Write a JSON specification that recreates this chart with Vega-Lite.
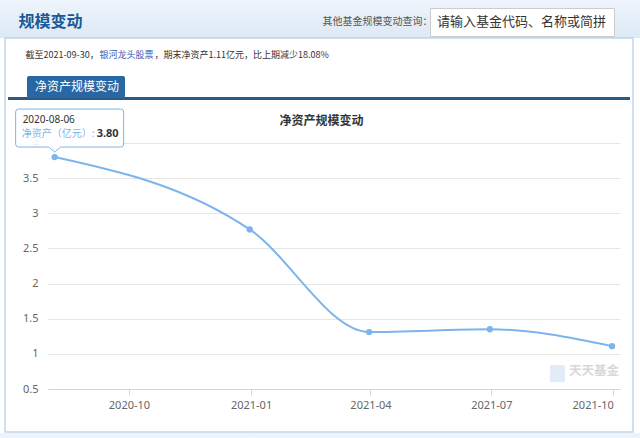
{
  "$schema": "https://vega.github.io/schema/vega-lite/v6.json",
  "width": 572,
  "height": 246,
  "autosize": {"type": "none"},
  "padding": {"left": 48, "top": 143, "right": 20, "bottom": 49},
  "background": "#ffffff",
  "config": {"font": "Noto Sans CJK SC", "view": {"stroke": null}},
  "data": {"values": [
    {"date": "2020-08-06", "value": 3.80},
    {"date": "2020-12-31", "value": 2.77},
    {"date": "2021-03-31", "value": 1.31},
    {"date": "2021-06-30", "value": 1.35},
    {"date": "2021-09-30", "value": 1.11}
  ]},
  "resolve": {"axis": {"x": "independent", "y": "independent"}, "scale": {"fill": "independent"}, "legend": {"fill": "independent"}},
  "layer": [
    {
      "mark": {"type": "line", "interpolate": "monotone", "strokeWidth": 2},
      "encoding": {
        "x": {"field": "date", "type": "temporal",
          "scale": {"type": "utc", "domain": [{"year": 2020, "month": 8, "date": 1, "utc": true}, {"year": 2021, "month": 10, "date": 6, "utc": true}]},
          "axis": {
            "values": [{"year": 2020, "month": 10, "date": 1, "utc": true}, {"year": 2021, "month": 1, "date": 1, "utc": true}, {"year": 2021, "month": 4, "date": 1, "utc": true}, {"year": 2021, "month": 7, "date": 1, "utc": true}, {"year": 2021, "month": 10, "date": 1, "utc": true}],
            "format": "%Y-%m", "grid": false, "domainColor": "#ccd6eb", "tickColor": "#ccd6eb", "tickSize": 6,
            "labelColor": "#666666", "labelFontSize": 11, "labelFont": "Noto Sans", "labelPadding": 4, "labelFlush": 10,
            "title": "截至2021-09-30，",
            "titleX": -23, "titleY": -335, "titleAlign": "left", "titleAnchor": "start", "titleBaseline": "middle",
            "titleFontSize": 9, "titleFontWeight": "normal", "titleColor": "#333333", "zindex": 2
          }
        },
        "y": {"field": "value", "type": "quantitative", "scale": {"domain": [0.5, 4]},
          "axis": {"values": [0.5, 1, 1.5, 2, 2.5, 3, 3.5, 4], "format": "~g", "domain": false, "ticks": false,
            "gridColor": "#e6e6e6", "gridWidth": 1, "labelColor": "#666666", "labelFontSize": 11, "labelFont": "Noto Sans",
            "labelPadding": 10,
            "title": "银河龙头股票", "titleAngle": 0, "titleX": 51, "titleY": -89, "titleAlign": "left", "titleAnchor": "start",
            "titleBaseline": "middle", "titleFontSize": 9, "titleFontWeight": "normal", "titleColor": "#3a55b0"}
        },
        "color": {"datum": "净资产规模变动", "scale": {"range": ["#7cb5ec"]},
          "legend": {"orient": "none", "legendX": -21, "legendY": -67, "title": null, "fillColor": "#2767a3",
            "padding": 5, "symbolSize": 0.01, "symbolOpacity": 0, "symbolStrokeWidth": 0, "labelColor": "#ffffff",
            "labelFontSize": 12, "labelOffset": -9, "cornerRadius": 2, "zindex": 1}
        }
      }
    },
    {
      "mark": {"type": "point", "filled": true, "size": 40, "color": "#7cb5ec", "opacity": 1},
      "encoding": {
        "x": {"field": "date", "type": "temporal",
          "axis": {"orient": "top", "labels": false, "ticks": false, "domain": false, "grid": false,
            "title": "规模变动", "titleX": -30, "titleY": -122, "titleAlign": "left", "titleAnchor": "start", "titleBaseline": "middle",
            "titleFontSize": 16, "titleFontWeight": "bold", "titleColor": "#1a5a96", "zindex": 2}
        },
        "y": {"field": "value", "type": "quantitative",
          "axis": {"orient": "right", "labels": false, "ticks": false, "domain": false, "grid": false,
            "title": "其他基金规模变动查询：", "titleAngle": 0, "titleX": -298, "titleY": -122, "titleAlign": "left", "titleAnchor": "start",
            "titleBaseline": "middle", "titleFontSize": 10, "titleFontWeight": "normal", "titleColor": "#555555", "zindex": 2}
        },
        "shape": {"datum": "请输入基金代码、名称或简拼", "scale": {"range": ["circle"]},
          "legend": {"orient": "none", "legendX": 382, "legendY": -135, "title": null, "fillColor": "#ffffff", "strokeColor": "#cccccc",
            "padding": 7, "symbolSize": 0.01, "symbolOpacity": 0, "symbolStrokeWidth": 0, "labelColor": "#333333",
            "labelFontSize": 13, "labelOffset": -13, "labelLimit": 300, "zindex": 1}
        }
      }
    },
    {
      "transform": [{"filter": "datum.value == 3.8"}],
      "mark": {"type": "point", "shape": "M -36 -48 L 66 -48 Q 69 -48 69 -45 L 69 -13 Q 69 -10 66 -10 L 6 -10 L 0 -5 L -6 -10 L -36 -10 Q -39 -10 -39 -13 L -39 -45 Q -39 -48 -36 -48 Z",
        "size": 4, "filled": true, "fill": "#ffffff", "fillOpacity": 0.9, "stroke": "#7cb5ec", "strokeWidth": 1, "opacity": 1},
      "encoding": {
        "x": {"field": "date", "type": "temporal",
          "axis": {"orient": "top", "labels": false, "ticks": false, "domain": false, "grid": false,
            "title": "净资产规模变动", "titleX": 273, "titleY": -23, "titleAlign": "center", "titleAnchor": "middle", "titleBaseline": "middle",
            "titleFontSize": 12, "titleFontWeight": "bold", "titleColor": "#333333", "zindex": 2}
        },
        "y": {"field": "value", "type": "quantitative",
          "axis": {"orient": "right", "labels": false, "ticks": false, "domain": false, "grid": false,
            "title": "，期末净资产1.11亿元，比上期减少18.08%", "titleAngle": 0, "titleX": -466, "titleY": -89, "titleAlign": "left", "titleAnchor": "start",
            "titleBaseline": "middle", "titleFontSize": 9, "titleFontWeight": "normal", "titleColor": "#333333", "zindex": 2}
        }
      }
    },
    {
      "transform": [{"filter": "datum.value == 3.8"}],
      "mark": {"type": "text", "align": "left", "baseline": "middle", "dx": -32, "dy": -37, "fontSize": 10, "color": "#333333", "font": "Noto Sans"},
      "encoding": {
        "x": {"field": "date", "type": "temporal", "axis": null},
        "y": {"field": "value", "type": "quantitative", "axis": null},
        "text": {"field": "date", "type": "temporal", "timeUnit": "utcyearmonthdate", "format": "%Y-%m-%d"}
      }
    },
    {
      "transform": [{"filter": "datum.value == 3.8"}],
      "mark": {"type": "text", "align": "left", "baseline": "middle", "dx": -33, "dy": -23, "fontSize": 10, "color": "#7cb5ec", "text": "净资产（亿元）:"},
      "encoding": {
        "x": {"field": "date", "type": "temporal", "axis": null},
        "y": {"field": "value", "type": "quantitative", "axis": null}
      }
    },
    {
      "transform": [{"filter": "datum.value == 3.8"}],
      "mark": {"type": "text", "align": "left", "baseline": "middle", "dx": 42, "dy": -23, "fontSize": 11, "fontWeight": "bold", "color": "#333333", "font": "Noto Sans", "strokeWidth": 0},
      "encoding": {
        "x": {"field": "date", "type": "temporal", "axis": null},
        "y": {"field": "value", "type": "quantitative", "axis": null},
        "text": {"field": "value", "type": "quantitative", "format": ".2f"},
        "stroke": {"field": "value", "type": "quantitative", "scale": {"domain": [0, 5], "range": ["#2c5a86", "#2c5a86"]},
          "legend": {"type": "gradient", "direction": "horizontal", "orient": "none", "legendX": -40, "legendY": -46,
            "gradientLength": 622, "gradientThickness": 3, "labelExpr": "''", "labelOpacity": 0, "title": null, "padding": 0, "gradientStrokeWidth": 0}
        }
      }
    },
    {
      "transform": [{"filter": "datum.value == 1.11"}],
      "mark": {"type": "point", "shape": "M -62 19 L -47 19 L -47 36 L -62 36 Z", "size": 4, "filled": true, "opacity": 1},
      "encoding": {
        "x": {"field": "date", "type": "temporal", "axis": null},
        "y": {"field": "value", "type": "quantitative", "axis": null},
        "fill": {"field": "value", "type": "quantitative", "scale": {"domain": [0, 4], "range": ["#dde9f5", "#eef4fb"]},
          "legend": {"type": "gradient", "direction": "vertical", "orient": "none", "legendX": -48, "legendY": -143,
            "gradientLength": 38, "gradientThickness": 640, "labelExpr": "''", "labelOpacity": 0, "title": null, "padding": 0, "gradientStrokeWidth": 0, "zindex": 0}
        }
      }
    },
    {
      "transform": [{"filter": "datum.value == 1.11"}],
      "mark": {"type": "text", "align": "right", "baseline": "middle", "dx": 7, "dy": 25, "fontSize": 12.5, "fontWeight": "bold", "color": "#d8d8d8", "text": "天天基金"},
      "encoding": {
        "x": {"field": "date", "type": "temporal", "axis": null},
        "y": {"field": "value", "type": "quantitative", "axis": null}
      }
    },
    {
      "transform": [{"filter": "datum.value == 1.11"}],
      "mark": {"type": "point", "size": 0, "filled": true},
      "encoding": {
        "x": {"field": "date", "type": "temporal", "axis": null},
        "y": {"field": "value", "type": "quantitative", "axis": null},
        "fill": {"field": "value", "type": "quantitative", "scale": {"domain": [0, 3], "range": ["rgba(255,255,255,0)", "rgba(255,255,255,0)"]},
          "legend": {"type": "gradient", "direction": "vertical", "orient": "none", "legendX": -43, "legendY": -105,
            "gradientLength": 394, "gradientThickness": 628, "labelExpr": "''", "labelOpacity": 0, "title": null, "padding": 0,
            "gradientStrokeColor": "#a9c6e2", "gradientStrokeWidth": 1.5, "zindex": 0}
        }
      }
    },
    {
      "transform": [{"filter": "datum.value == 1.11"}],
      "mark": {"type": "point", "size": 0, "filled": true},
      "encoding": {
        "x": {"field": "date", "type": "temporal", "axis": null},
        "y": {"field": "value", "type": "quantitative", "axis": null},
        "fill": {"field": "value", "type": "quantitative", "scale": {"domain": [0, 2], "range": ["#e4eef8", "#e4eef8"]},
          "legend": {"type": "gradient", "direction": "horizontal", "orient": "none", "legendX": -48, "legendY": 290,
            "gradientLength": 640, "gradientThickness": 6, "labelExpr": "''", "labelOpacity": 0, "title": null, "padding": 0,
            "gradientStrokeWidth": 0, "zindex": 0}
        }
      }
    }
  ]
}
